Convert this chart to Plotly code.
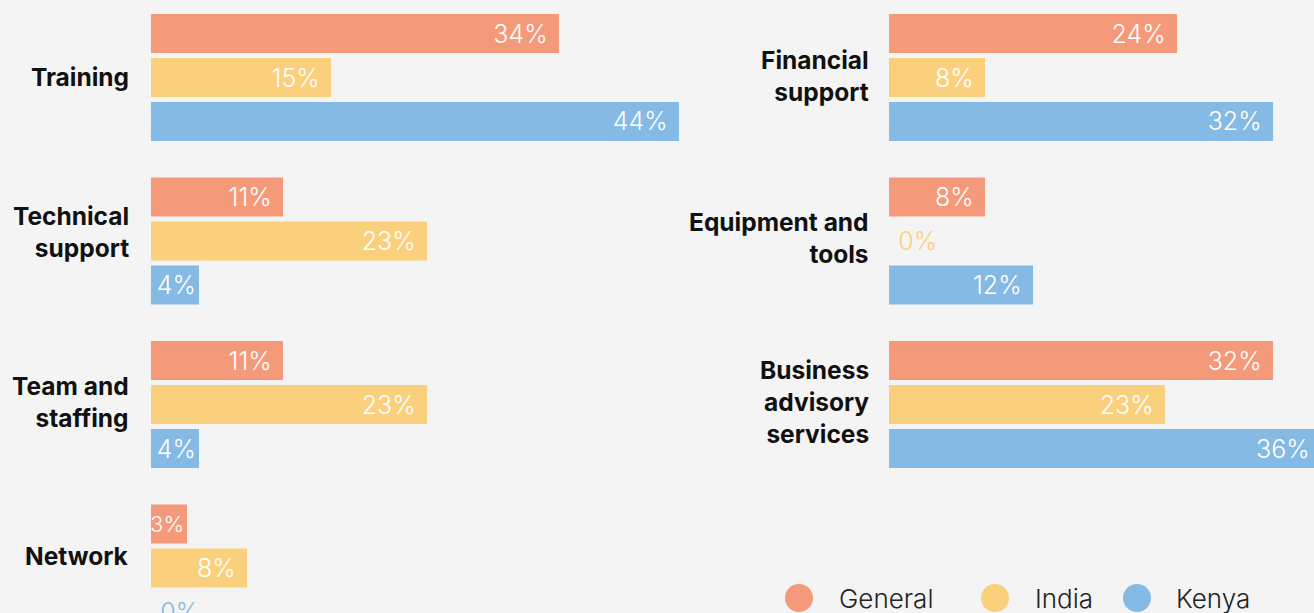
import plotly.graph_objects as go

# Series
series_names = ["General", "India", "Kenya"]
series_colors = ["#F4997A", "#FBD07D", "#85BAE4"]

# Left panel
left_labels = ["Training", "Technical<br>support", "Team and<br>staffing", "Network"]
left_general = [34, 11, 11, 3]
left_india = [15, 23, 23, 8]
left_kenya = [44, 4, 4, 0]

# Right panel
right_labels = ["Financial<br>support", "Equipment and<br>tools", "Business<br>advisory<br>services"]
right_general = [24, 8, 32]
right_india = [8, 0, 23]
right_kenya = [32, 12, 36]

W, H = 1314, 613
BG = "#F4F4F4"
LABEL_FONT = "Inter"
VALUE_FONT = "Inter"
PX_PER_PCT = 12.0
LEFT_X0, LEFT_X1 = 151, 700
RIGHT_X0, RIGHT_X1 = 889, W
Y_RANGE = [3.275, -0.474]

# vertical nudges (px) for the category labels of each panel
left_label_shift = [1, 9, 3, 12]
right_label_shift = [2, 3, 3]


def value_text(v):
    if v == 0:
        return "\u2005" + f"{v}%"
    if v < 5:
        return f"{v}%"
    return f"{v}%\u2004"


def value_size(v):
    # the narrowest bars get a slightly smaller label so it stays inside
    return 22 if 0 < v < 4 else 25


def add_panel(fig, values_by_series, xa, ya):
    for name, color, vals in zip(series_names, series_colors, values_by_series):
        sizes = [value_size(v) for v in vals]
        fig.add_trace(go.Bar(
            y=list(range(len(vals))), x=vals, orientation="h", name=name,
            marker=dict(color=color, line=dict(width=0)),
            text=[value_text(v) for v in vals],
            textposition=["outside" if v == 0 else "inside" for v in vals],
            insidetextanchor="end", textangle=0,
            insidetextfont=dict(color="white", family=VALUE_FONT, size=sizes, weight=300),
            outsidetextfont=dict(color=color, family=VALUE_FONT, size=sizes, weight=300),
            constraintext="none",
            xaxis=xa, yaxis=ya, showlegend=False, hoverinfo="skip",
        ))


def add_category_labels(fig, labels, shifts, xa, ya, xshift):
    for i, (lab, s) in enumerate(zip(labels, shifts)):
        fig.add_annotation(text=lab, xref=xa, yref=ya, x=0, y=i,
                           xanchor="right", yanchor="middle", align="right",
                           xshift=xshift, yshift=s, showarrow=False,
                           font=dict(family=LABEL_FONT, size=24.5, color="#111111",
                                     weight=700))


fig = go.Figure()
add_panel(fig, [left_general, left_india, left_kenya], "x", "y")
add_panel(fig, [right_general, right_india, right_kenya], "x2", "y2")
add_category_labels(fig, left_labels, left_label_shift, "x", "y", -20)
add_category_labels(fig, right_labels, right_label_shift, "x2", "y2", -18)

axis_common = dict(showgrid=False, zeroline=False, showline=False, ticks="",
                   fixedrange=True, visible=False)

fig.update_layout(
    width=W, height=H, autosize=False,
    margin=dict(l=0, r=0, t=0, b=0, pad=0),
    paper_bgcolor=BG, plot_bgcolor=BG,
    barmode="group", bargap=0.193, bargroupgap=0.114,
    showlegend=False,
    xaxis=dict(domain=[LEFT_X0 / W, LEFT_X1 / W],
               range=[0, (LEFT_X1 - LEFT_X0) / PX_PER_PCT], **axis_common),
    xaxis2=dict(domain=[RIGHT_X0 / W, RIGHT_X1 / W],
                range=[0, (RIGHT_X1 - RIGHT_X0) / PX_PER_PCT],
                anchor="y2", **axis_common),
    yaxis=dict(range=Y_RANGE, anchor="x", **axis_common),
    yaxis2=dict(range=Y_RANGE, anchor="x2", **axis_common),
)

# Legend: large circular swatches with series names
legend_cx = [799, 995, 1137]
legend_tx = [837, 1033, 1174]
legend_cy = 598
for name, color, cx, tx in zip(series_names, series_colors, legend_cx, legend_tx):
    fig.add_shape(type="circle", xref="paper", yref="paper",
                  xsizemode="pixel", ysizemode="pixel",
                  xanchor=cx / W, yanchor=1 - legend_cy / H,
                  x0=-14, x1=14, y0=-14, y1=14,
                  fillcolor=color, line=dict(width=0))
    fig.add_annotation(text=name, xref="paper", yref="paper",
                       x=tx / W, y=1 - legend_cy / H,
                       xanchor="left", yanchor="middle", showarrow=False,
                       font=dict(family=VALUE_FONT, size=26, color="#222222", weight=300))

fig.write_html("out.html")
